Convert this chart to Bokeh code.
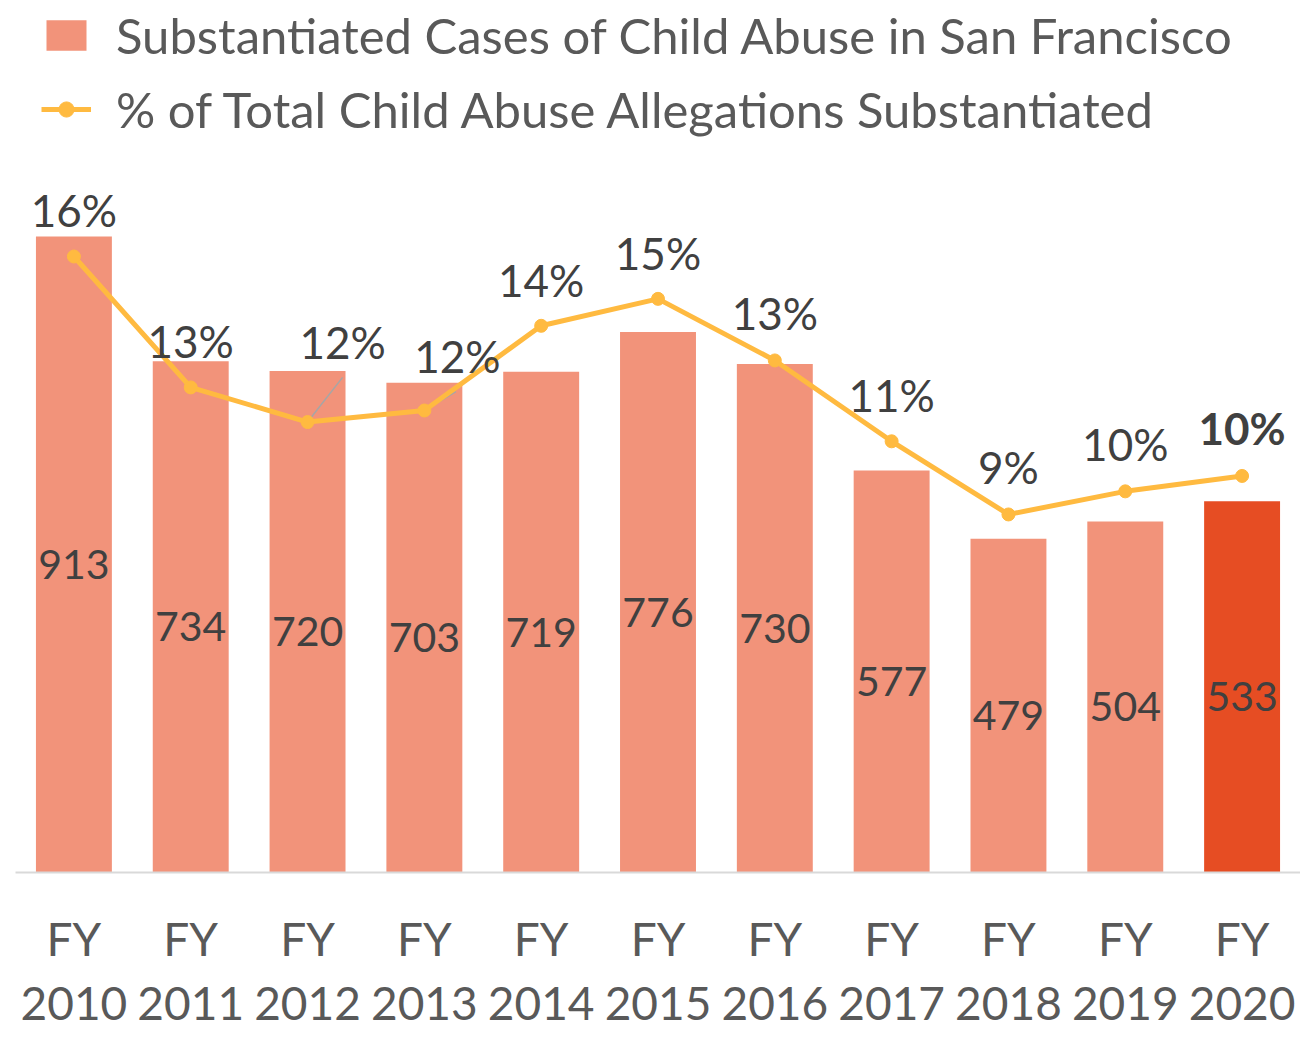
from bokeh.plotting import figure
from bokeh.models import (ColumnDataSource, FactorRange, Range1d, CategoricalAxis, Legend, LegendItem,
                          CustomJSTickFormatter)
from bokeh.core.properties import value
from bokeh.embed import file_html
from bokeh.resources import INLINE

years = ["2010", "2011", "2012", "2013", "2014", "2015", "2016", "2017", "2018", "2019", "2020"]
cases = [913, 734, 720, 703, 719, 776, 730, 577, 479, 504, 533]
pct = [16.0, 12.6, 11.7, 12.0, 14.2, 14.9, 13.3, 11.2, 9.3, 9.9, 10.3]
pct_labels = ["16%", "13%", "12%", "12%", "14%", "15%", "13%", "11%", "9%", "10%", "10%"]

factors = ["FY " + y for y in years]
FONT = "Lato"
BAR = "#F2937A"
HIGHLIGHT = "#E64D23"
LINE = "#FFBA40"

bar_colors = [BAR] * (len(years) - 1) + [HIGHLIGHT]

FRAME_H = 872
p = figure(frame_width=1285, frame_height=FRAME_H, x_range=FactorRange(*factors, range_padding=0),
           y_range=Range1d(0, FRAME_H / 0.6966), output_backend="svg", toolbar_location=None,
           y_axis_location=None, min_border_left=15, min_border_right=0,
           min_border_top=0, min_border_bottom=164)
p.extra_y_ranges = {"pct": Range1d(0, FRAME_H / 38.5)}
p.outline_line_color = None
p.grid.visible = False
p.background_fill_color = "white"
p.border_fill_color = "white"

src = ColumnDataSource(dict(x=factors, cases=cases, mid=[c / 2 for c in cases],
                            color=bar_colors, lab=[str(c) for c in cases]))
bars = p.vbar(x="x", top="cases", width=0.65, source=src, fill_color="color", line_color=None)
p.text(x="x", y="mid", text="lab", source=src, text_align="center", text_baseline="middle",
       y_offset=10, text_font=value(FONT), text_font_size="41px", text_color="#404040")

# leader lines for offset labels
lead_src = ColumnDataSource(dict(x0=[factors[2], factors[3]], y0=[pct[2], pct[3]],
                                 x1=[(factors[2], 0.30), (factors[3], 0.27)],
                                 y1=[pct[2] + 1.16, pct[3] + 0.49]))
p.segment(x0="x0", y0="y0", x1="x1", y1="y1", source=lead_src, y_range_name="pct",
          line_color="#A6A6A6", line_width=1.5)

psrc = ColumnDataSource(dict(x=factors, pct=pct, lab=pct_labels,
                             xo=[0, 0, 35, 33, 0, 0, 0, 0, 0, 0, 0],
                             yo=[-47, -46, -80, -55, -46, -46, -47, -46, -47, -47, -48],
                             style=["normal"] * 10 + ["bold"]))
ln = p.line(x="x", y="pct", source=psrc, y_range_name="pct", line_color=LINE, line_width=5)
mk = p.scatter(x="x", y="pct", source=psrc, y_range_name="pct", size=13, fill_color=LINE,
               line_color=LINE)
p.text(x="x", y="pct", text="lab", source=psrc, y_range_name="pct", x_offset="xo", y_offset="yo",
       text_align="center", text_baseline="middle", text_font=value(FONT),
       text_font_size="44px", text_font_style="style", text_color="#404040")

ax = p.xaxis[0]
ax.formatter = CustomJSTickFormatter(code="return tick.split(' ')[0];")
ax.axis_line_color = "#D9D9D9"
ax.axis_line_width = 2
ax.major_tick_line_color = None
ax.minor_tick_line_color = None
ax.major_label_text_font = FONT
ax.major_label_text_font_size = "46px"
ax.major_label_text_color = "#595959"
ax.major_label_standoff = 32
ax.major_label_text_line_height = 1.0

ax2 = CategoricalAxis(formatter=CustomJSTickFormatter(code="return tick.split(' ')[1];"))
ax2.axis_line_color = None
ax2.major_tick_line_color = None
ax2.minor_tick_line_color = None
ax2.major_label_text_font = FONT
ax2.major_label_text_font_size = "46px"
ax2.major_label_text_color = "#595959"
ax2.major_label_standoff = 12
ax2.major_label_text_line_height = 1.0
p.add_layout(ax2, "below")

legend = Legend(items=[
    LegendItem(label="Substantiated Cases of Child Abuse in San Francisco", renderers=[bars], index=0),
    LegendItem(label="% of Total Child Abuse Allegations Substantiated", renderers=[ln, mk]),
], location=(26, FRAME_H - 138), orientation="vertical", padding=0, margin=0, spacing=16,
    glyph_width=50, glyph_height=38, label_standoff=25,
    label_text_font=FONT, label_text_font_size="49px", label_text_color="#595959",
    border_line_color=None, background_fill_alpha=0)
p.add_layout(legend, "center")

open("out.html", "w").write(file_html(p, INLINE))
